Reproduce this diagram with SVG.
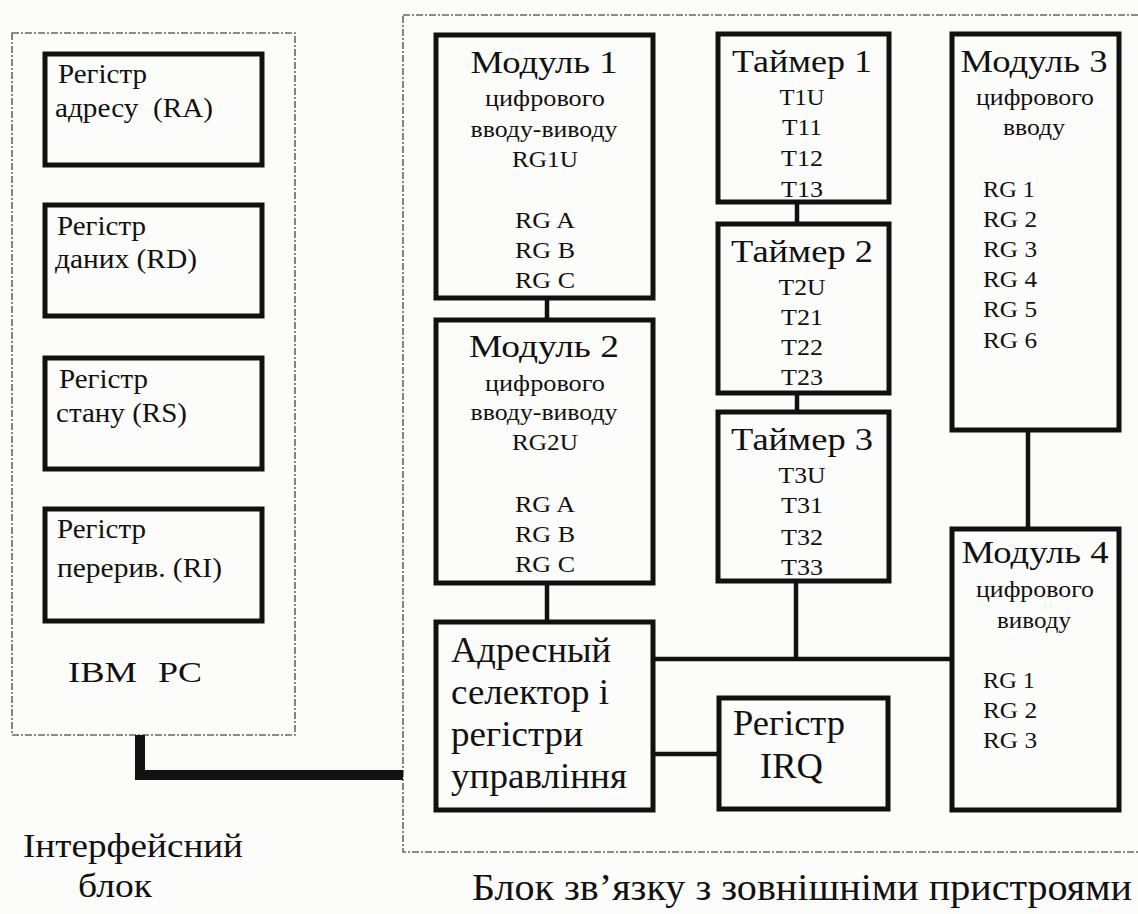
<svg xmlns="http://www.w3.org/2000/svg" width="1138" height="914" viewBox="0 0 1138 914" font-family="Liberation Serif, DejaVu Serif, serif">
<style>
text{font-family:"Liberation Serif","DejaVu Serif",serif;fill:#111}
.box{fill:none;stroke:#111;stroke-width:5}
.outer{fill:none;stroke:#666;stroke-width:1.6;stroke-dasharray:7 2 2 2}
.con{fill:none;stroke:#111;stroke-width:4.5}
.bus{fill:none;stroke:#111;stroke-width:10}
.reg{font-size:27px}
.ttl{font-size:31px;text-anchor:middle}
.sm{font-size:23px;text-anchor:middle}
.tm{font-size:24px;text-anchor:middle}
.rg{font-size:23px}
.big{font-size:35px}
</style>
<rect x="0" y="0" width="1138" height="914" fill="#fcfcfa"/>
<g id="interface-block">
<rect class="outer" x="12" y="33" width="283" height="702"/>
<text x="68" y="682" font-size="30" textLength="69" lengthAdjust="spacingAndGlyphs">IBM</text>
<text x="158" y="682" font-size="30" textLength="44" lengthAdjust="spacingAndGlyphs">PC</text>
</g>
<g id="io-block">
<rect class="outer" x="403" y="15" width="740" height="837"/>
</g>
<g id="connectors">
<path class="bus" d="M140,735 V775 H403"/>
<path class="con" d="M547,300 V318"/>
<path class="con" d="M547,585 V620"/>
<path class="con" d="M797,204 V222"/>
<path class="con" d="M797,395 V410"/>
<path class="con" d="M796,583 V659"/>
<path class="con" d="M655,659 H950"/>
<path class="con" d="M1028,432 V527"/>
<path class="con" d="M655,754 H717"/>
</g>
<g id="reg-ra">
<rect class="box" x="45" y="54" width="217" height="111"/>
<text class="reg" x="58" y="83" textLength="89" lengthAdjust="spacingAndGlyphs">Регістр</text>
<text class="reg" x="55" y="117" textLength="158" lengthAdjust="spacingAndGlyphs" xml:space="preserve">адресу  (RA)</text>
</g>
<g id="reg-rd">
<rect class="box" x="45" y="205" width="217" height="111"/>
<text class="reg" x="57" y="235" textLength="89" lengthAdjust="spacingAndGlyphs">Регістр</text>
<text class="reg" x="55" y="268" textLength="142" lengthAdjust="spacingAndGlyphs">даних (RD)</text>
</g>
<g id="reg-rs">
<rect class="box" x="45" y="358" width="217" height="111"/>
<text class="reg" x="59" y="388" textLength="89" lengthAdjust="spacingAndGlyphs">Регістр</text>
<text class="reg" x="56" y="422" textLength="131" lengthAdjust="spacingAndGlyphs">стану (RS)</text>
</g>
<g id="reg-ri">
<rect class="box" x="45" y="509" width="217" height="112"/>
<text class="reg" x="57" y="538" textLength="89" lengthAdjust="spacingAndGlyphs">Регістр</text>
<text class="reg" x="57" y="577" textLength="165" lengthAdjust="spacingAndGlyphs">перерив. (RI)</text>
</g>
<g id="module1">
<rect class="box" x="436" y="35" width="217" height="263"/>
<text class="ttl" x="544" y="73" textLength="147" lengthAdjust="spacingAndGlyphs">Модуль 1</text>
<text class="sm" x="545" y="106" textLength="120" lengthAdjust="spacingAndGlyphs">цифрового</text>
<text class="sm" x="544" y="137" textLength="147" lengthAdjust="spacingAndGlyphs">вводу-виводу</text>
<text class="sm" x="545" y="167" textLength="66" lengthAdjust="spacingAndGlyphs">RG1U</text>
<text class="sm" x="545" y="228" textLength="60" lengthAdjust="spacingAndGlyphs">RG A</text>
<text class="sm" x="545" y="258" textLength="60" lengthAdjust="spacingAndGlyphs">RG B</text>
<text class="sm" x="545" y="288" textLength="60" lengthAdjust="spacingAndGlyphs">RG C</text>
</g>
<g id="module2">
<rect class="box" x="436" y="320" width="217" height="263"/>
<text class="ttl" x="544" y="357" textLength="150" lengthAdjust="spacingAndGlyphs">Модуль 2</text>
<text class="sm" x="545" y="391" textLength="120" lengthAdjust="spacingAndGlyphs">цифрового</text>
<text class="sm" x="544" y="420" textLength="147" lengthAdjust="spacingAndGlyphs">вводу-виводу</text>
<text class="sm" x="545" y="450" textLength="66" lengthAdjust="spacingAndGlyphs">RG2U</text>
<text class="sm" x="545" y="512" textLength="60" lengthAdjust="spacingAndGlyphs">RG A</text>
<text class="sm" x="545" y="542" textLength="60" lengthAdjust="spacingAndGlyphs">RG B</text>
<text class="sm" x="545" y="572" textLength="60" lengthAdjust="spacingAndGlyphs">RG C</text>
</g>
<g id="timer1">
<rect class="box" x="718" y="34" width="171" height="168"/>
<text class="ttl" x="802" y="72" textLength="140" lengthAdjust="spacingAndGlyphs">Таймер 1</text>
<text class="tm" x="802" y="105" textLength="45" lengthAdjust="spacingAndGlyphs">T1U</text>
<text class="tm" x="802" y="135" textLength="40" lengthAdjust="spacingAndGlyphs">T11</text>
<text class="tm" x="802" y="166" textLength="42" lengthAdjust="spacingAndGlyphs">T12</text>
<text class="tm" x="802" y="197" textLength="42" lengthAdjust="spacingAndGlyphs">T13</text>
</g>
<g id="timer2">
<rect class="box" x="718" y="224" width="171" height="169"/>
<text class="ttl" x="802" y="262" textLength="142" lengthAdjust="spacingAndGlyphs">Таймер 2</text>
<text class="tm" x="802" y="295" textLength="47" lengthAdjust="spacingAndGlyphs">T2U</text>
<text class="tm" x="802" y="325" textLength="42" lengthAdjust="spacingAndGlyphs">T21</text>
<text class="tm" x="802" y="355" textLength="42" lengthAdjust="spacingAndGlyphs">T22</text>
<text class="tm" x="802" y="385" textLength="42" lengthAdjust="spacingAndGlyphs">T23</text>
</g>
<g id="timer3">
<rect class="box" x="718" y="412" width="171" height="169"/>
<text class="ttl" x="802" y="450" textLength="142" lengthAdjust="spacingAndGlyphs">Таймер 3</text>
<text class="tm" x="802" y="483" textLength="47" lengthAdjust="spacingAndGlyphs">T3U</text>
<text class="tm" x="802" y="513" textLength="42" lengthAdjust="spacingAndGlyphs">T31</text>
<text class="tm" x="802" y="545" textLength="42" lengthAdjust="spacingAndGlyphs">T32</text>
<text class="tm" x="802" y="575" textLength="42" lengthAdjust="spacingAndGlyphs">T33</text>
</g>
<g id="module3">
<rect class="box" x="952" y="34" width="167" height="396"/>
<text class="ttl" x="1034" y="72" textLength="147" lengthAdjust="spacingAndGlyphs">Модуль 3</text>
<text class="sm" x="1035" y="105" textLength="118" lengthAdjust="spacingAndGlyphs">цифрового</text>
<text class="sm" x="1034" y="135" textLength="62" lengthAdjust="spacingAndGlyphs">вводу</text>
<text class="rg" x="983" y="197" textLength="52" lengthAdjust="spacingAndGlyphs">RG 1</text>
<text class="rg" x="983" y="227" textLength="54" lengthAdjust="spacingAndGlyphs">RG 2</text>
<text class="rg" x="983" y="257" textLength="54" lengthAdjust="spacingAndGlyphs">RG 3</text>
<text class="rg" x="983" y="287" textLength="54" lengthAdjust="spacingAndGlyphs">RG 4</text>
<text class="rg" x="983" y="317" textLength="54" lengthAdjust="spacingAndGlyphs">RG 5</text>
<text class="rg" x="983" y="348" textLength="54" lengthAdjust="spacingAndGlyphs">RG 6</text>
</g>
<g id="module4">
<rect class="box" x="952" y="529" width="167" height="281"/>
<text class="ttl" x="1035" y="563" textLength="147" lengthAdjust="spacingAndGlyphs">Модуль 4</text>
<text class="sm" x="1035" y="597" textLength="118" lengthAdjust="spacingAndGlyphs">цифрового</text>
<text class="sm" x="1034" y="628" textLength="74" lengthAdjust="spacingAndGlyphs">виводу</text>
<text class="rg" x="983" y="688" textLength="52" lengthAdjust="spacingAndGlyphs">RG 1</text>
<text class="rg" x="983" y="718" textLength="54" lengthAdjust="spacingAndGlyphs">RG 2</text>
<text class="rg" x="983" y="748" textLength="54" lengthAdjust="spacingAndGlyphs">RG 3</text>
</g>
<g id="address-selector">
<rect class="box" x="436" y="622" width="217" height="188"/>
<text class="big" x="451" y="662" textLength="160" lengthAdjust="spacingAndGlyphs">Адресный</text>
<text class="big" x="451" y="704" textLength="158" lengthAdjust="spacingAndGlyphs">селектор і</text>
<text class="big" x="451" y="746" textLength="132" lengthAdjust="spacingAndGlyphs">регістри</text>
<text class="big" x="451" y="788" textLength="176" lengthAdjust="spacingAndGlyphs">управління</text>
</g>
<g id="reg-irq">
<rect class="box" x="719" y="698" width="169" height="111"/>
<text class="big" x="733" y="735" textLength="112" lengthAdjust="spacingAndGlyphs">Регістр</text>
<text class="big" x="760" y="778" textLength="63" lengthAdjust="spacingAndGlyphs">IRQ</text>
</g>
<g id="labels">
<text x="23" y="857" font-size="33" textLength="220" lengthAdjust="spacingAndGlyphs">Інтерфейсний</text>
<text x="78" y="897" font-size="33" textLength="74" lengthAdjust="spacingAndGlyphs">блок</text>
<text x="472" y="900" font-size="37" textLength="660" lengthAdjust="spacingAndGlyphs">Блок зв’язку з зовнішніми пристроями</text>
</g>
</svg>
